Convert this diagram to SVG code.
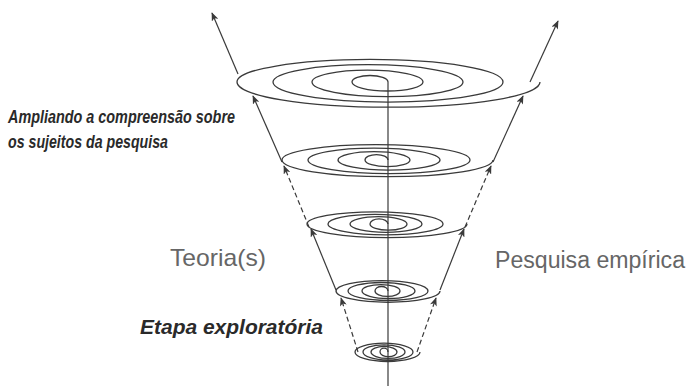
<svg xmlns="http://www.w3.org/2000/svg" width="692" height="386" viewBox="0 0 692 386">
<style>
.sp{fill:none;stroke:#3a3a3a;stroke-width:1.3}
.ln{fill:none;stroke:#3a3a3a;stroke-width:1.2}
.ds{fill:none;stroke:#3a3a3a;stroke-width:1.2;stroke-dasharray:5 3}
.bi{font-family:"Liberation Sans",Arial,sans-serif;font-weight:bold;font-style:italic;fill:#2a2a2a}
.rg{font-family:"Liberation Sans",Arial,sans-serif;fill:#666}
</style>
<defs>
<marker id="ah" viewBox="0 0 10 8" refX="9" refY="4" markerWidth="9" markerHeight="7" orient="auto" markerUnits="userSpaceOnUse">
<path d="M0,0 L10,4 L0,8 L2.5,4 z" fill="#3a3a3a"/>
</marker>
</defs>
<rect width="692" height="386" fill="#fff"/>
<g id="level1">
<path class="sp" d="M388,82 A18,6.5 0 0 0 352,82 A35.5,9 0 0 0 423,82 A55.5,11.8 0 0 0 312,82 A75.5,14.6 0 0 0 463,82 A95,17.3 0 0 0 273,82 A115,20.1 0 0 0 503,82 A133,22.6 0 0 0 237,82 A151.5,25.2 0 0 0 540,82"/>
</g>
<g id="level2">
<path class="sp" d="M388,160 A11.5,5.4 0 0 0 365,160 A22.5,6.7 0 0 0 410,160 A36,8.3 0 0 0 338,160 A51,10.1 0 0 0 440,160 A66,11.9 0 0 0 308,160 A81,13.7 0 0 0 470,160 A94,15.3 0 0 0 282,160 A105.5,16.7 0 0 0 493,160"/>
</g>
<g id="level3">
<path class="sp" d="M388,224 A9,5.1 0 0 0 370,224 A18.5,6.2 0 0 0 407,224 A28.5,7.4 0 0 0 350,224 A36,8.3 0 0 0 422,224 A47,9.6 0 0 0 328,224 A57.5,10.9 0 0 0 443,224 A68,12.2 0 0 0 307,224 A80,13.6 0 0 0 467,224"/>
</g>
<g id="level4">
<path class="sp" d="M388,291 A6.5,4.5 0 0 0 375,291 A12.5,5.4 0 0 0 400,291 A19,6.4 0 0 0 362,291 A26.5,7.5 0 0 0 415,291 A33.5,8.5 0 0 0 348,291 A40,9.5 0 0 0 428,291 A46,10.4 0 0 0 336,291 A52,11.3 0 0 0 440,291"/>
</g>
<g id="level5">
<path class="sp" d="M388,352 A4,3.8 0 0 0 380,352 A8.5,4.7 0 0 0 397,352 A13,5.6 0 0 0 371,352 A17,6.4 0 0 0 405,352 A21,7.2 0 0 0 363,352 A25,8 0 0 0 413,352 A29,8.8 0 0 0 355,352 A32.5,9.5 0 0 0 420,352"/>
</g>
<g id="connectors">
<line class="ln" x1="388" y1="82" x2="388" y2="386"/>
<line class="ln" x1="238" y1="74" x2="212" y2="13" marker-end="url(#ah)"/>
<line class="ln" x1="530" y1="82" x2="558" y2="21" marker-end="url(#ah)"/>
<line class="ln" x1="282" y1="162" x2="253" y2="96" marker-end="url(#ah)"/>
<line class="ln" x1="493" y1="162" x2="523" y2="96" marker-end="url(#ah)"/>
<line class="ds" x1="309" y1="227" x2="284" y2="166" marker-end="url(#ah)"/>
<line class="ds" x1="465" y1="227" x2="491" y2="166" marker-end="url(#ah)"/>
<line class="ln" x1="336" y1="290" x2="311" y2="229" marker-end="url(#ah)"/>
<line class="ln" x1="440" y1="290" x2="464" y2="229" marker-end="url(#ah)"/>
<line class="ds" x1="358" y1="352" x2="341" y2="298" marker-end="url(#ah)"/>
<line class="ds" x1="417" y1="352" x2="436" y2="298" marker-end="url(#ah)"/>
</g>
<g id="labels">
<text class="bi" x="8" y="123" font-size="18" textLength="227" lengthAdjust="spacingAndGlyphs">Ampliando a compreensão sobre</text>
<text class="bi" x="8" y="148" font-size="18" textLength="160" lengthAdjust="spacingAndGlyphs">os sujeitos da pesquisa</text>
<text class="rg" x="170" y="266" font-size="24" textLength="96" lengthAdjust="spacingAndGlyphs">Teoria(s)</text>
<text class="rg" x="495" y="268" font-size="23" textLength="190" lengthAdjust="spacingAndGlyphs">Pesquisa empírica</text>
<text class="bi" x="140" y="334" font-size="20" textLength="183" lengthAdjust="spacingAndGlyphs">Etapa exploratória</text>
</g>
</svg>
